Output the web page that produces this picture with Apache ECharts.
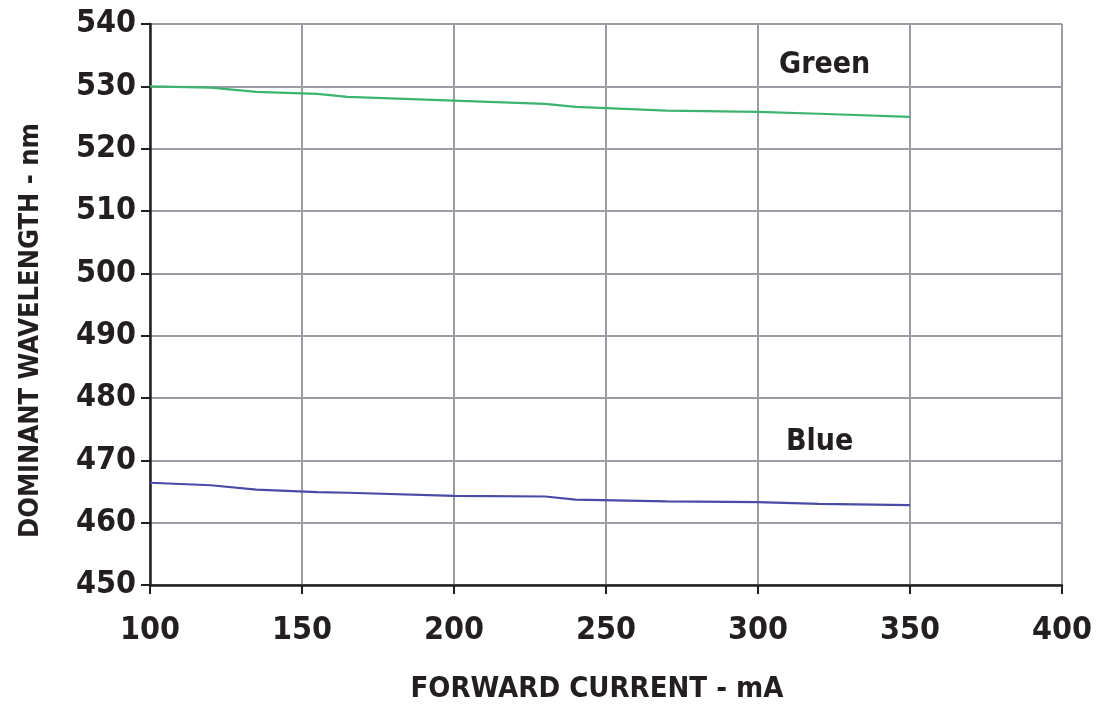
<!DOCTYPE html>
<html>
<head>
<meta charset="utf-8">
<script src="https://cdn.jsdelivr.net/npm/echarts@6/dist/echarts.min.js"></script>
<style>
  html, body { margin: 0; padding: 0; background: #fff; }
  #chart { width: 1105px; height: 707px; }
</style>
</head>
<body>
<div id="chart"></div>
<script>
// 数据：近似值
var currentX = [100, 120, 135, 155, 165, 200, 230, 240, 270, 300, 320, 350];
var greenNm = [530.0, 529.8, 529.1, 528.8, 528.3, 527.7, 527.2, 526.7, 526.1, 525.9, 525.6, 525.1];
var blueNm = [466.4, 466.0, 465.3, 464.9, 464.8, 464.3, 464.2, 463.7, 463.4, 463.3, 463.0, 462.8];
var seriesNames = ['Green', 'Blue'];
var xTicks = [100, 150, 200, 250, 300, 350, 400];
var yTicks = [450, 460, 470, 480, 490, 500, 510, 520, 530, 540];

var font = "'DejaVu Sans Condensed', 'Liberation Sans Narrow', sans-serif";

function pairs(xs, ys) {
    return xs.map(function (x, i) { return [x, ys[i]]; });
}

var chart = echarts.init(document.getElementById('chart'));
var option = {
    animation: false,
    backgroundColor: '#fff',
    grid: { left: 150, right: 43, top: 24, bottom: 122, outerBoundsMode: 'none', containLabel: false },
    xAxis: {
        type: 'value',
        min: xTicks[0],
        max: xTicks[xTicks.length - 1],
        interval: 50,
        name: 'FORWARD CURRENT - mA',
        nameLocation: 'middle',
        nameGap: 90,
        nameTextStyle: { fontFamily: font, fontWeight: 'bold', fontSize: 29, color: '#231f20', padding: [0, 18, 0, 0] },
        axisLine: { show: true, lineStyle: { color: '#231f20', width: 2.5 } },
        axisTick: { show: true, inside: false, length: 9, lineStyle: { color: '#231f20', width: 2 } },
        axisLabel: { margin: 30, fontFamily: font, fontWeight: 'bold', fontSize: 32, color: '#231f20' },
        splitLine: { show: true, lineStyle: { color: '#9a9ea4', width: 2 } }
    },
    yAxis: {
        type: 'value',
        min: yTicks[0],
        max: yTicks[yTicks.length - 1],
        interval: 10,
        name: 'DOMINANT WAVELENGTH - nm',
        nameLocation: 'middle',
        nameGap: 106,
        nameRotate: 90,
        nameTextStyle: { fontFamily: font, fontWeight: 'bold', fontSize: 27, color: '#231f20', padding: [0, 52, 0, 0] },
        axisLine: { show: true, lineStyle: { color: '#231f20', width: 2.5 } },
        axisTick: { show: true, inside: false, length: 9, lineStyle: { color: '#231f20', width: 2 } },
        axisLabel: { margin: 14, fontFamily: font, fontWeight: 'bold', fontSize: 32, color: '#231f20' },
        splitLine: { show: true, lineStyle: { color: '#9a9ea4', width: 2 } }
    },
    series: [
        {
            name: seriesNames[0],
            type: 'line',
            data: pairs(currentX, greenNm),
            symbol: 'none',
            lineStyle: { color: '#3cb46e', width: 2.2 }
        },
        {
            name: seriesNames[1],
            type: 'line',
            data: pairs(currentX, blueNm),
            symbol: 'none',
            lineStyle: { color: '#4a4aa8', width: 2.2 }
        }
    ],
    graphic: [
        {
            type: 'text', left: 779, top: 50,
            style: { text: seriesNames[0], fontFamily: font, fontWeight: 'bold', fontSize: 30, fill: '#231f20' }
        },
        {
            type: 'text', left: 786, top: 427,
            style: { text: seriesNames[1], fontFamily: font, fontWeight: 'bold', fontSize: 30, fill: '#231f20' }
        }
    ]
};
chart.setOption(option);
</script>
</body>
</html>
